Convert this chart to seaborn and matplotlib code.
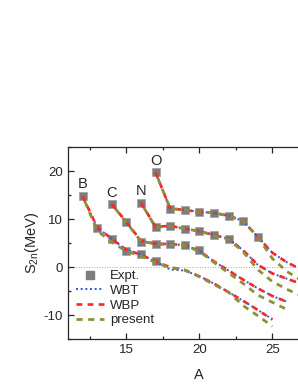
import matplotlib
matplotlib.use("Agg")
from matplotlib import pyplot as plt
from matplotlib.lines import Line2D
from matplotlib.ticker import MultipleLocator
import seaborn as sns

# experimental two-neutron separation energies (MeV)
b_expt_a = [12, 13, 14, 15, 16, 17]
b_expt = [14.8, 8.25, 5.85, 3.45, 2.8, 1.2]
c_expt_a = [14, 15, 16, 17, 18, 19, 20]
c_expt = [13.1, 9.4, 5.3, 4.8, 4.8, 4.7, 3.5]
n_expt_a = [16, 17, 18, 19, 20, 21, 22]
n_expt = [13.4, 8.4, 8.6, 8.0, 7.6, 6.7, 5.9]
o_expt_a = [17, 18, 19, 20, 21, 22, 23, 24]
o_expt = [19.7, 12.2, 11.9, 11.5, 11.3, 10.7, 9.6, 6.3]

# calculations
b_calc_a = list(range(12, 26))
b_wbt = [14.8, 8.3, 5.9, 3.6, 2.6, 1.2, -0.5, -0.7, -1.9, -3.4, -5.2, -7.0, -8.9, -10.8]
b_wbp = [14.8, 8.3, 5.9, 3.6, 2.6, 1.2, 0.0, -0.6, -1.9, -3.4, -5.2, -7.0, -8.9, -10.9]
b_present = [14.8, 7.6, 5.2, 3.3, 2.3, 1.0, -0.1, -0.6, -2.0, -3.6, -5.2, -8.0, -10.1, -12.3]

c_calc_a = list(range(14, 27))
c_wbt = [13.1, 9.4, 5.5, 4.9, 4.8, 4.6, 3.4, 1.2, -0.7, -2.6, -4.4, -6.0, -7.2]
c_wbp = [13.1, 9.4, 5.5, 4.9, 4.8, 4.6, 3.4, 1.2, -0.7, -2.6, -4.4, -6.0, -7.2]
c_present = [13.1, 9.3, 5.4, 4.8, 4.7, 4.5, 3.3, 1.0, -1.2, -3.4, -5.8, -7.3, -8.8]

n_calc_a = list(range(16, 28))
n_wbt = [13.4, 8.4, 8.6, 8.0, 7.5, 6.7, 5.9, 3.5, 0.5, -1.3, -2.4, -3.5]
n_wbp = [13.4, 8.4, 8.6, 8.0, 7.5, 6.7, 5.9, 3.5, 0.5, -1.3, -2.4, -3.5]
n_present = [13.4, 8.3, 8.5, 8.0, 7.5, 6.6, 5.8, 3.2, -0.5, -3.0, -4.6, -6.0]

o_calc_a = list(range(17, 28))
o_wbt = [19.7, 12.2, 11.9, 11.5, 11.3, 10.7, 9.6, 6.3, 3.0, 1.0, -0.5]
o_wbp = [19.7, 12.2, 11.9, 11.5, 11.3, 10.7, 9.6, 6.3, 3.0, 1.0, -0.5]
o_present = [19.7, 12.2, 11.9, 11.5, 11.3, 10.7, 9.6, 6.3, 1.8, -0.9, -2.8]

elements = ["B", "C", "N", "O"]

sns.set_style("ticks")
plt.rcParams['font.family'] = ['Liberation Sans', 'DejaVu Sans']
plt.rcParams['mathtext.fontset'] = 'custom'
plt.rcParams['mathtext.rm'] = 'Liberation Sans'
plt.rcParams['mathtext.default'] = 'regular'
plt.rcParams['axes.unicode_minus'] = False

fig = plt.figure(figsize=(2.98, 3.85), dpi=100)
ax = fig.add_axes([0.228, 0.1187, 0.784, 0.4995])

col_expt = '#7c7c7c'
col_wbt = '#2b5ad8'
col_wbp = '#ff2626'
col_pres = '#8f8f3a'

ls_wbt = (0, (1, 1.4))
ls_wbp = (0, (2.2, 2.0))
ls_pres = (2.1, (2.2, 2.0))

chains = [
    (b_expt_a, b_expt, b_calc_a, b_wbt, b_wbp, b_present),
    (c_expt_a, c_expt, c_calc_a, c_wbt, c_wbp, c_present),
    (n_expt_a, n_expt, n_calc_a, n_wbt, n_wbp, n_present),
    (o_expt_a, o_expt, o_calc_a, o_wbt, o_wbp, o_present),
]

ax.axhline(0, color='#a8a8a8', lw=0.7, ls=':', zorder=0)

for name, (ea, ev, ca, wbt, wbp, pres) in zip(elements, chains):
    sns.scatterplot(x=ea, y=ev, ax=ax, marker='s', s=40, color=col_expt,
                    edgecolor='#a0a0a0', linewidth=0.5, zorder=2)
    sns.lineplot(x=ca, y=wbt, ax=ax, color=col_wbt, lw=1.4,
                 linestyle=ls_wbt, zorder=3)
    sns.lineplot(x=ca, y=wbp, ax=ax, color=col_wbp, lw=1.9,
                 linestyle=ls_wbp, zorder=4)
    sns.lineplot(x=ca, y=pres, ax=ax, color=col_pres, lw=2.0,
                 linestyle=ls_pres, zorder=5)
    ax.text(ea[0], ev[0] + 2.4, name, ha='center', va='center', fontsize=10.5)

ax.set_xlim(11, 27)
ax.set_ylim(-15, 25)
ax.xaxis.set_major_locator(MultipleLocator(5))
ax.xaxis.set_minor_locator(MultipleLocator(2.5))
ax.yaxis.set_major_locator(MultipleLocator(10))
ax.yaxis.set_minor_locator(MultipleLocator(5))
ax.tick_params(which='both', direction='in', top=True, right=False,
               labelsize=9.5, width=0.9)
ax.tick_params(which='major', length=4)
ax.tick_params(which='minor', length=2.5)
for sp in ax.spines.values():
    sp.set_linewidth(0.9)

ax.set_xlabel("A", fontsize=10.5)
ax.xaxis.set_label_coords(0.561, -0.15)
ax.set_ylabel("S$_{2n}$(MeV)", fontsize=10.5, labelpad=2)

handles = [
    Line2D([], [], marker='s', color=col_expt, ls='none', markersize=6.3),
    Line2D([], [], color=col_wbt, lw=1.4, ls=ls_wbt),
    Line2D([], [], color=col_wbp, lw=1.9, ls=ls_wbp),
    Line2D([], [], color=col_pres, lw=2.0, ls=(0, (2.2, 2.0))),
]
ax.legend(handles=handles, labels=["Expt.", "WBT", "WBP", "present"],
          loc='upper left', bbox_to_anchor=(0.035, 0.36), frameon=False,
          fontsize=9.5, handlelength=2.1, handletextpad=0.45,
          labelspacing=0.18, borderpad=0, borderaxespad=0)

fig.savefig("out.png", dpi=100)
